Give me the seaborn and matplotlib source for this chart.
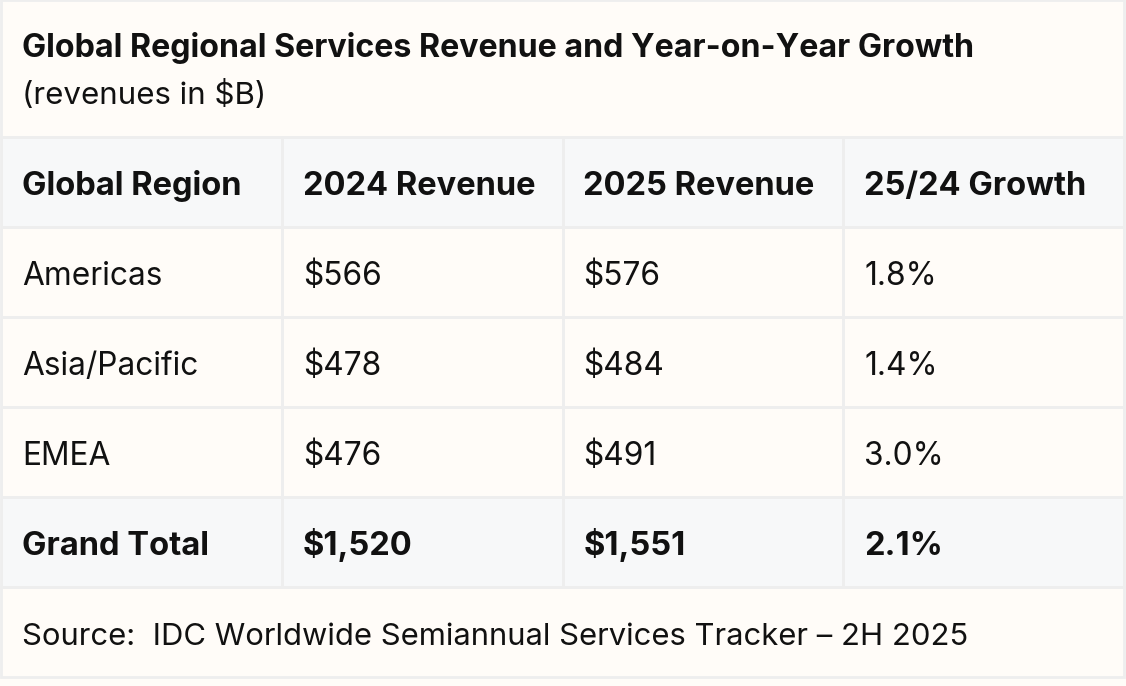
import matplotlib
matplotlib.use("Agg")
import matplotlib.pyplot as plt
import numpy as np
import seaborn as sns
from matplotlib.colors import ListedColormap
from matplotlib.patches import Rectangle

# ── Data ──────────────────────────────────────────────────────────────────────
title = "Global Regional Services Revenue and Year-on-Year Growth"
subtitle = "(revenues in $B)"
source = "Source:  IDC Worldwide Semiannual Services Tracker – 2H 2025"

columns = ["Global Region", "2024 Revenue", "2025 Revenue", "25/24 Growth"]
regions = ["Americas", "Asia/Pacific", "EMEA"]
rev_2024 = [566, 478, 476]
rev_2025 = [576, 484, 491]
growth = [1.8, 1.4, 3.0]
total_label = "Grand Total"
total_2024 = 1520
total_2025 = 1551
total_growth = 2.1

CREAM = "#FFFCF8"
GREY = "#F7F8F9"
LINE = "#EEEEEE"
INK = "#111111"
FONT = ["Inter", "DejaVu Sans"]

W, H = 1126, 686
fig = plt.figure(figsize=(W / 100, H / 100), dpi=100)
fig.patch.set_facecolor(CREAM)
plt.rcParams["font.family"] = FONT

# background axes in pixel coordinates
bg = fig.add_axes([0, 0, 1, 1])
bg.set_xlim(0, W)
bg.set_ylim(H, 0)
bg.axis("off")
x0, x1 = 1, 1124
bg.add_patch(Rectangle((x0, 0), x1 - x0, 137, facecolor=CREAM, edgecolor=LINE, lw=2))
bg.add_patch(Rectangle((x0, 587), x1 - x0, 90, facecolor=CREAM, edgecolor=LINE, lw=2))
bg.text(22, 57, title, fontsize=23.2, fontweight="bold", color=INK, va="baseline", ha="left")
bg.text(22, 104, subtitle, fontsize=22.5, color=INK, va="baseline", ha="left")
bg.text(22, 645, source, fontsize=22.3, color=INK, va="baseline", ha="left")

# table body via seaborn heatmap (row shading)
cells = [columns]
for r, a, b, g in zip(regions, rev_2024, rev_2025, growth):
    cells.append([r, f"${a:,}", f"${b:,}", f"{g:.1f}%"])
cells.append([total_label, f"${total_2024:,}", f"${total_2025:,}", f"{total_growth:.1f}%"])
shade = np.array([[1] * 4] + [[0] * 4] * len(regions) + [[1] * 4])

tab = fig.add_axes([x0 / W, 1 - 587 / H, (x1 - x0) / W, 450 / H])
sns.heatmap(shade, ax=tab, cmap=ListedColormap([CREAM, GREY]), cbar=False,
            linewidths=2, linecolor=LINE, vmin=0, vmax=1)
tab.set_xticks([])
tab.set_yticks([])
for spine in tab.spines.values():
    spine.set_visible(True)
    spine.set_color(LINE)
    spine.set_linewidth(2)

bold_rows = {0, len(cells) - 1}
for i, row in enumerate(cells):
    for j, txt in enumerate(row):
        bold = i in bold_rows
        tab.text(j + 21 / 281, i + 58 / 90, txt, ha="left", va="baseline",
                 fontsize=23.5 if bold else 22.8, color=INK,
                 fontweight="bold" if bold else "normal")

fig.savefig("out.png", dpi=100, facecolor=CREAM)
